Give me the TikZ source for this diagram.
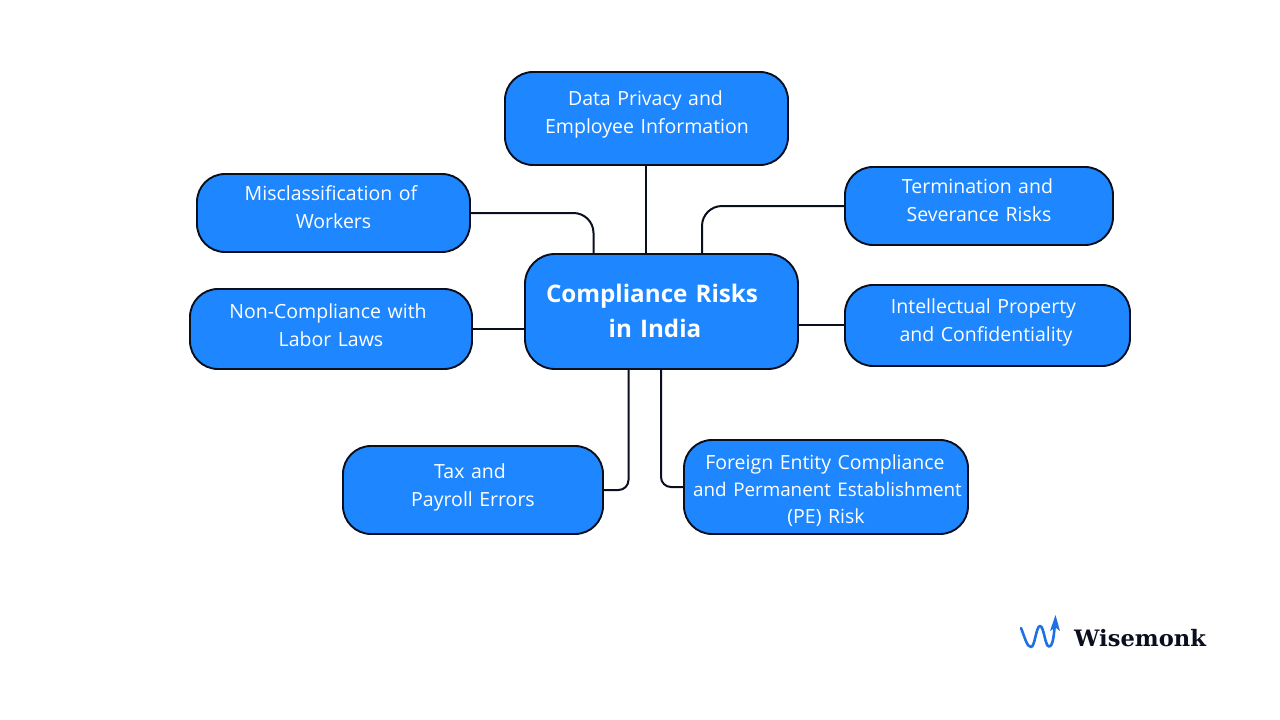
\documentclass[tikz,border=0pt]{standalone}
\usepackage{fontspec}
\setmainfont{Open Sans}
\newfontfamily\logofont{DejaVu Serif}
\definecolor{boxblue}{HTML}{1E87FF}
\definecolor{logoblue}{HTML}{1F6FE5}
\definecolor{ink}{HTML}{0A0F1E}
\newcommand{\sh}[3]{\leavevmode\hbox to 0pt{\hss\kern#1pt\kern#1pt\raisebox{#2pt}[0pt][0pt]{#3}\hss}}
\tikzset{
  x=1pt,y=-1pt,
  riskbox/.style={draw=ink,line width=1.9pt,fill=boxblue,rounded corners=28pt,inner sep=0pt,text=white,align=center,
    font=\fontsize{19.5}{28}\selectfont,anchor=center},
  link/.style={draw=ink,line width=2pt},
}
\begin{document}
\begin{tikzpicture}
\useasboundingbox (0,0) rectangle (1280,720);
\node[riskbox,minimum width=283pt,minimum height=93pt,text width=283pt] (data) at (646.5,118.5)
  {\sh{-1}{-1}{Data Privacy and}\\\sh{0.5}{-1}{Employee Information}};
\node[riskbox,minimum width=273pt,minimum height=78pt,text width=273pt] (mis) at (333.5,213)
  {\sh{-2.5}{-1}{Misclassification of}\\\sh{0}{-1}{Workers}};
\node[riskbox,minimum width=268pt,minimum height=78pt,text width=268pt] (term) at (979,206)
  {\sh{-1.5}{-1}{Termination and}\\\sh{0}{-1}{Severance Risks}};
\node[riskbox,minimum width=273pt,minimum height=115pt,text width=273pt,rounded corners=30pt,
  font=\fontsize{24.2}{35}\bfseries\selectfont] (center) at (661.5,311.5)
  {\sh{-9.5}{-8}{Compliance Risks}\\\sh{-6.5}{-8}{in India}};
\node[riskbox,minimum width=282pt,minimum height=80pt,text width=282pt] (labor) at (331,329)
  {\sh{-3}{-3}{Non-Compliance with}\\\sh{0}{-3}{Labor Laws}};
\node[riskbox,minimum width=285pt,minimum height=81pt,text width=285pt] (ip) at (987.5,325.5)
  {\sh{-4}{-1.5}{Intellectual Property}\\\sh{-1.5}{-1.5}{and Confidentiality}};
\node[riskbox,minimum width=260pt,minimum height=88pt,text width=260pt] (tax) at (473,490)
  {\sh{-3}{-2}{Tax and}\\\sh{0}{-2}{Payroll Errors}};
\node[riskbox,minimum width=284pt,minimum height=94pt,text width=284pt,
  font=\fontsize{19.5}{27}\selectfont] (foreign) at (826,487)
  {\sh{-1}{-9}{Foreign Entity Compliance}\\\sh{1.5}{-9}{\fontsize{18.8}{27}\selectfont and Permanent Establishment}\\\sh{0}{-9}{(PE) Risk}};
\coordinate (cdata) at (646,165);
\coordinate (cdatab) at (646,254);
\coordinate (cip) at (845,325);
\coordinate (cmis) at (593.5,254);
\coordinate (cterm) at (702,254);
\coordinate (ctax) at (628.5,369);
\coordinate (cfor) at (661,369);
\draw[link] (cdata) -- (cdatab);
\draw[link,rounded corners=20pt] (mis.east) -| (cmis);
\draw[link,rounded corners=20pt] (term.west) -| (cterm);
\draw[link] (labor.east) -- (labor.east -| center.west);
\draw[link] (cip) -- (cip -| center.east);
\draw[link,rounded corners=10pt] (tax.east) -| (ctax);
\draw[link,rounded corners=10pt] (foreign.west) -| (cfor);
% logo
\draw[logoblue,line width=2.6pt,line join=round,line cap=round]
  (1021,628) .. controls (1025,638) and (1027,647) .. (1031,647)
  .. controls (1035,647) and (1036,626) .. (1040,626)
  .. controls (1044,626) and (1045,646.5) .. (1049,646.5)
  .. controls (1053,646.5) and (1054,635) .. (1055,622);
\fill[logoblue] (1055.5,615) -- (1060,631) -- (1055.5,627.5) -- (1050,631) -- cycle;
\node[font=\logofont\bfseries\fontsize{22.6}{30}\selectfont,text=ink,anchor=west,inner sep=0pt] (logo) at (1074,638.5) {Wisemonk};
\end{tikzpicture}
\end{document}
